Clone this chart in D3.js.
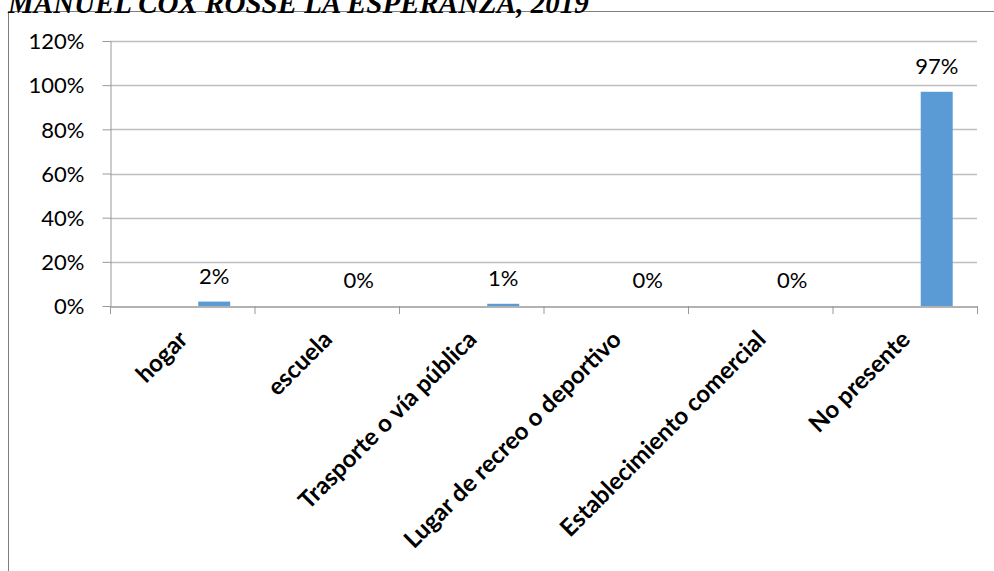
<!DOCTYPE html>
<html>
<head>
<meta charset="utf-8">
<title>Lugar de accidente</title>
<script src="https://d3js.org/d3.v7.min.js"></script>
<style>
 body { margin:0; background:#fff; }
 svg text { font-family: Lato, "Open Sans", sans-serif; }
</style>
</head>
<body>
<div id="chart"></div>
<script>

const categories = ["hogar", "escuela", "Trasporte o vía pública", "Lugar de recreo o deportivo", "Establecimiento comercial", "No presente"];
const values = [0.02, 0, 0.01, 0, 0, 0.97];
const yTicks = [0, 0.2, 0.4, 0.6, 0.8, 1.0, 1.2];
const titleText = "MANUEL COX ROSSE LA ESPERANZA, 2019";

const width = 994, height = 571;
const margin = { top: 41, right: 17, bottom: 265, left: 110 };

const svg = d3.select("#chart").append("svg")
  .attr("width", width)
  .attr("height", height);

// frame lines
svg.append("line").attr("x1", 8).attr("x2", width).attr("y1", 11.5).attr("y2", 11.5)
  .attr("stroke", "#7f7f7f").attr("stroke-width", 1);
svg.append("line").attr("x1", 8.5).attr("x2", 8.5).attr("y1", 11).attr("y2", height)
  .attr("stroke", "#7f7f7f").attr("stroke-width", 1);

svg.append("text")
  .attr("x", 8).attr("y", 13)
  .style("font-family", "'Liberation Serif', 'Times New Roman', serif")
  .style("font-weight", "bold").style("font-style", "italic")
  .style("font-size", "29px")
  .text(titleText);

const x = d3.scaleBand()
  .domain(categories)
  .range([margin.left, width - margin.right])
  .padding(0);

// three slots per category (clustered chart), the data sits in the last one
const xs = d3.scaleBand()
  .domain(["a", "b", "c"])
  .range([0, x.bandwidth()])
  .paddingInner(0)
  .paddingOuter(0.76);

const y = d3.scaleLinear()
  .domain([0, 1.2])
  .range([height - margin.bottom, margin.top]);

// grid
svg.append("g")
  .selectAll("line")
  .data(yTicks.slice(1))
  .join("line")
    .attr("x1", margin.left).attr("x2", width - margin.right)
    .attr("y1", d => Math.round(y(d)) + 0.5).attr("y2", d => Math.round(y(d)) + 0.5)
    .attr("stroke", "#bfbfbf").attr("stroke-width", 1.3);

// y axis
const yAxis = svg.append("g")
  .attr("transform", `translate(${margin.left + 0.5},0)`)
  .call(d3.axisLeft(y).tickValues(yTicks).tickFormat(d3.format(".0%")).tickSize(8).tickSizeOuter(0));
yAxis.select(".domain").attr("stroke", "#999");
yAxis.selectAll(".tick line").attr("stroke", "#999");
yAxis.selectAll(".tick text").attr("x", -26).attr("dy", "0.35em")
  .attr("fill", "#000").style("font-size", "22px").style("font-family", "Lato, sans-serif");

// bars
svg.append("g")
  .selectAll("rect")
  .data(values)
  .join("rect")
    .attr("x", (d, i) => x(categories[i]) + xs("c"))
    .attr("y", d => y(d))
    .attr("width", xs.bandwidth())
    .attr("height", d => y(0) - y(d))
    .attr("fill", "#5b9bd5");

// x axis
const xAxis = svg.append("g")
  .attr("transform", `translate(0,${Math.round(y(0)) + 0.5})`)
  .call(d3.axisBottom(x).tickSize(0).tickSizeOuter(0).tickFormat(""));
xAxis.select(".domain").attr("stroke", "#999").attr("stroke-width", 1.3);
xAxis.selectAll(".tick").remove();

svg.append("g")
  .selectAll("line")
  .data(categories.concat([null]))
  .join("line")
    .attr("x1", (d, i) => margin.left + i * x.step() + 0.5)
    .attr("x2", (d, i) => margin.left + i * x.step() + 0.5)
    .attr("y1", y(0)).attr("y2", y(0) + 8)
    .attr("stroke", "#999");

// category labels
svg.append("g")
  .selectAll("text")
  .data(categories)
  .join("text")
    .attr("transform", d => `translate(${x(d) + x.bandwidth() / 2 - 5},${y(0) + 23}) rotate(-45)`)
    .attr("text-anchor", "end")
    .attr("dy", "0.7em")
    .style("font-weight", "bold")
    .style("font-size", "24px")
    .attr("fill", "#000")
    .text(d => d);

// value labels
svg.append("g")
  .selectAll("text")
  .data(values)
  .join("text")
    .attr("x", (d, i) => x(categories[i]) + xs("c") + xs.bandwidth() / 2)
    .attr("y", d => y(d) - 18)
    .attr("text-anchor", "middle")
    .style("font-size", "22px")
    .attr("fill", "#000")
    .text(d => d3.format(".0%")(d));

</script>
</body>
</html>
